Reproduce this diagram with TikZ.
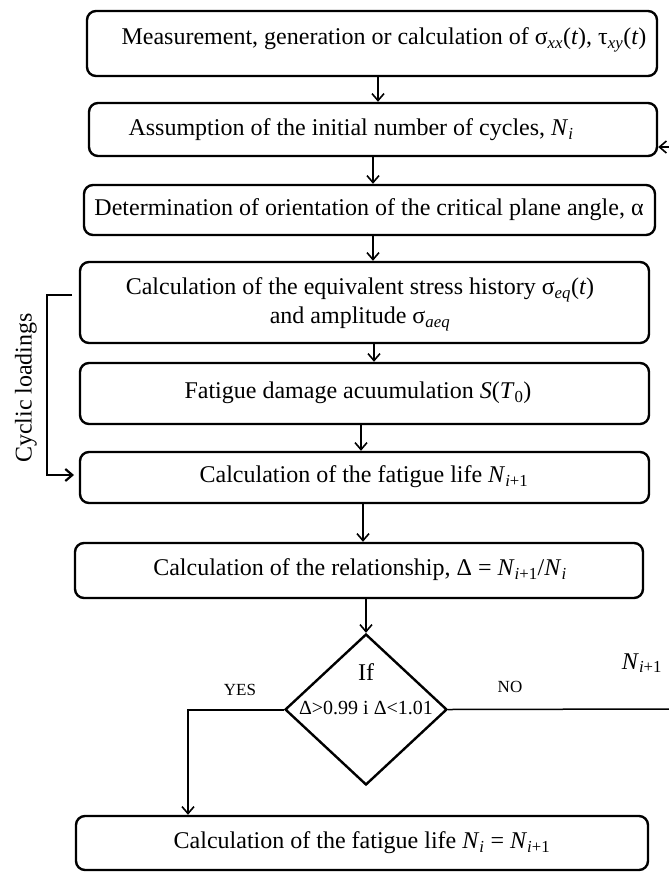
\documentclass[tikz,border=0pt]{standalone}
\usepackage{fontspec}
\setmainfont{Liberation Serif}
\usetikzlibrary{arrows.meta,shapes.geometric,calc}
\newcommand{\ssub}[1]{\textsubscript{#1}}
\begin{document}
\begin{tikzpicture}[x=1pt,y=-1pt,
  box/.style={draw, line width=2.4pt, rounded corners=9pt, inner sep=0pt},
  txt/.style={font=\fontsize{24}{29}\selectfont, inner sep=0pt, align=center},
  lbl/.style={font=\fontsize{17}{20}\selectfont, inner sep=0pt},
  arr/.style={line width=1.6pt, -{Straight Barb[length=7pt,width=12pt,line width=1.6pt]}},
  thin/.style={line width=1.5pt}
]
\useasboundingbox (0,0) rectangle (669,873);

% boxes
\node[box, minimum width=570, minimum height=65] (b1) at (372,43.5) {};
\node[box, minimum width=568, minimum height=53] (b2) at (373,129.5) {};
\node[box, minimum width=571, minimum height=50] (b3) at (369.5,210) {};
\node[box, minimum width=569, minimum height=81] (b4) at (364.5,302.5) {};
\node[box, minimum width=569, minimum height=61] (b5) at (364.5,393.5) {};
\node[box, minimum width=569, minimum height=51] (b6) at (364.5,477.5) {};
\node[box, minimum width=568, minimum height=55] (b7) at (359,570.5) {};
\node[draw, diamond, line width=2.4pt, inner sep=0pt, minimum width=162, minimum height=151] (dia) at (366,709.5) {};
\node[box, minimum width=572, minimum height=54] (b8) at (362,843) {};

% texts
\node[txt] (t1) at (384,40) {Measurement, generation or calculation of σ\ssub{\textit{xx}}(\textit{t}), τ\ssub{\textit{xy}}(\textit{t})};
\node[txt] (t2) at (351,130) {Assumption of the initial number of cycles, \textit{N}\ssub{\textit{i}}};
\node[txt] (t3) at (369,210) {Determination of orientation of the critical plane angle, α};
\node[txt] (t4) at (360,304) {Calculation of the equivalent stress history σ\ssub{\textit{eq}}(\textit{t})\\and amplitude σ\ssub{\textit{aeq}}};
\node[txt] (t5) at (358,393) {Fatigue damage acuumulation \textit{S}(\textit{T}\ssub{0})};
\node[txt] (t6) at (364,477) {Calculation of the fatigue life \textit{N}\ssub{\textit{i}+1}};
\node[txt] (t7) at (360,570) {Calculation of the relationship, Δ = \textit{N}\ssub{\textit{i}+1}/\textit{N}\ssub{\textit{i}}};
\node[txt] (t8) at (362,843) {Calculation of the fatigue life \textit{N}\ssub{\textit{i}} = \textit{N}\ssub{\textit{i}+1}};
\node[txt] (tif) at (366,672) {If};
\node[txt, font=\fontsize{20}{24}\selectfont] (tcond) at (366,708) {Δ>0.99 i Δ<1.01};
\node[lbl] (yes) at (240,690) {YES};
\node[lbl] (no) at (510,687) {NO};
\node[txt] (nip) at (642,663) {\textit{N}\ssub{\textit{i}+1}};
\node[txt, rotate=90] (cyc) at (26,388) {Cyclic loadings};

% coordinates
\coordinate (ax1) at (378,0);
\coordinate (ax2) at (373,0);
\coordinate (ax3) at (374,0);
\coordinate (ax4) at (361,0);
\coordinate (ax5) at (363,0);
\coordinate (yx) at (188,0);
\coordinate (noend) at (669,709);
\coordinate (backstart) at (669,147);
\coordinate (c1) at (72,295);
\coordinate (c2) at (47,295);
\coordinate (c3) at (47,475);
\coordinate (c4) at (74,475);

% connectors
\draw[arr] (b1.south -| ax1) -- (b2.north -| ax1);
\draw[arr] (b2.south -| ax2) -- (b3.north -| ax2);
\draw[arr] (b3.south -| ax2) -- (b4.north -| ax2);
\draw[arr] (b4.south -| ax3) -- (b5.north -| ax3);
\draw[arr] (b5.south -| ax4) -- (b6.north -| ax4);
\draw[arr] (b6.south -| ax5) -- (b7.north -| ax5);
\draw[arr] (b7.south -| dia.north) -- (dia.north);
\draw[arr, line width=2pt] (dia.west) -| (b8.north -| yx);
\draw[thin] (dia.east) -- (noend);
\draw[arr] (backstart) -- (b2.east |- backstart);
\draw[line width=2.2pt, -{Straight Barb[length=7pt,width=12pt,line width=2.2pt]}] (c1) -- (c2) -- (c3) -- (c4);
\end{tikzpicture}
\end{document}
